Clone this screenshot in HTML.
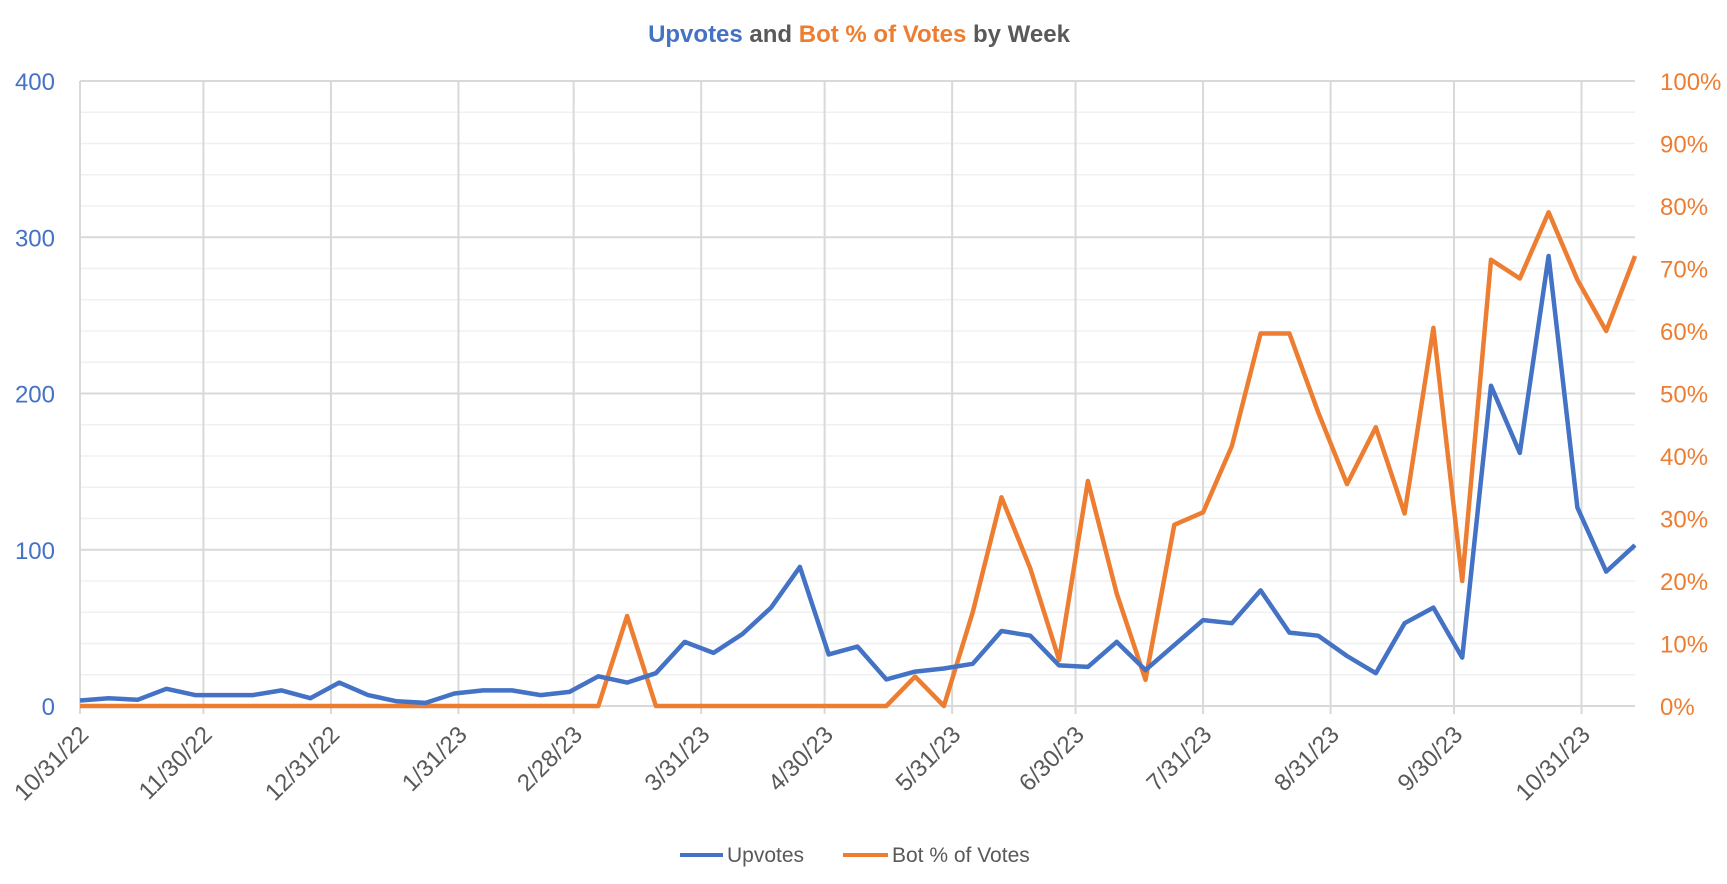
<!DOCTYPE html>
<html><head><meta charset="utf-8"><style>
html,body{margin:0;padding:0;background:#fff;}
svg{display:block;font-family:"Liberation Sans",sans-serif;}
</style></head><body>
<svg id="c" width="1727" height="884" viewBox="0 0 1727 884" xmlns="http://www.w3.org/2000/svg">
<text x="859" y="42" text-anchor="middle" font-size="24" font-weight="bold"><tspan fill="#4472C4">Upvotes</tspan><tspan fill="#595959"> and </tspan><tspan fill="#ED7D31">Bot % of Votes</tspan><tspan fill="#595959"> by Week</tspan></text>
<g id="grid"></g>
<g id="labels"></g>
<g font-size="21" fill="#595959">
<line x1="680" y1="855" x2="723" y2="855" stroke="#4472C4" stroke-width="4"/>
<text x="727" y="862">Upvotes</text>
<line x1="843" y1="855" x2="888" y2="855" stroke="#ED7D31" stroke-width="4"/>
<text x="892" y="862">Bot % of Votes</text>
</g>
<polyline id="orange" fill="none" stroke="#ED7D31" stroke-width="4.5" stroke-linejoin="round"/>
<polyline id="blue" fill="none" stroke="#4472C4" stroke-width="4.5" stroke-linejoin="round"/>
</svg>
<script>
var NS="http://www.w3.org/2000/svg";
function el(p,t,a,txt){var e=document.createElementNS(NS,t);for(var k in a)e.setAttribute(k,a[k]);if(txt!=null)e.textContent=txt;p.appendChild(e);return e;}
var L=80,R=1635,Y0=706,Y1=81;
var g=document.getElementById('grid'),lb=document.getElementById('labels');
for(var v=0;v<=400;v+=20){var y=Y0-v*1.5625;
 el(g,'line',{x1:L,x2:R,y1:y,y2:y,stroke:(v%100==0?'#d9d9d9':'#f0f0f0'),'stroke-width':(v%100==0?2:1.5)});}
for(var v=0;v<=400;v+=100){el(lb,'text',{x:55,y:Y0-v*1.5625+9,'text-anchor':'end','font-size':24,fill:'#4472C4'},String(v));}
for(var p=0;p<=100;p+=10){el(lb,'text',{x:1660,y:Y0-p*6.25+9,'font-size':24,fill:'#ED7D31'},p+'%');}
var days=[0,30,61,92,120,151,181,212,242,273,304,334,365];
var names=["10/31/22","11/30/22","12/31/22","1/31/23","2/28/23","3/31/23","4/30/23","5/31/23","6/30/23","7/31/23","8/31/23","9/30/23","10/31/23"];
var step=(R-L)/54/7;
for(var i=0;i<days.length;i++){var x=L+days[i]*step;
 el(g,'line',{x1:x,x2:x,y1:Y1,y2:Y0+8,stroke:'#d9d9d9','stroke-width':2});
 el(lb,'text',{x:0,y:0,'text-anchor':'end','font-size':24,fill:'#595959',transform:'translate('+(x+10)+',736) rotate(-45)'},names[i]);}
var blue=[3.5,5,4,11,7,7,7,10,5,15,7,3,2,8,10,10,7,9,19,15,21,41,34,46,63,89,33,38,17,22,24,27,48,45,26,25,41,23,39,55,53,74,47,45,32,21,53,63,31,205,162,288,127,86,103];
var org=[0,0,0,0,0,0,0,0,0,0,0,0,0,0,0,0,0,0,0,14.4,0,0,0,0,0,0,0,0,0,4.7,0,15,33.4,22,7.4,36,18,4.2,29,31,41.6,59.6,59.6,47,35.5,44.6,30.8,60.5,20,71.4,68.4,79,68.2,60,72];
var pb=[],po=[],dx=(R-L)/54;
for(var i=0;i<55;i++){var x=(L+i*dx).toFixed(1);pb.push(x+','+(Y0-blue[i]*1.5625).toFixed(1));po.push(x+','+(Y0-org[i]*6.25).toFixed(1));}
document.getElementById('blue').setAttribute('points',pb.join(' '));
document.getElementById('orange').setAttribute('points',po.join(' '));
</script>
</body></html>
